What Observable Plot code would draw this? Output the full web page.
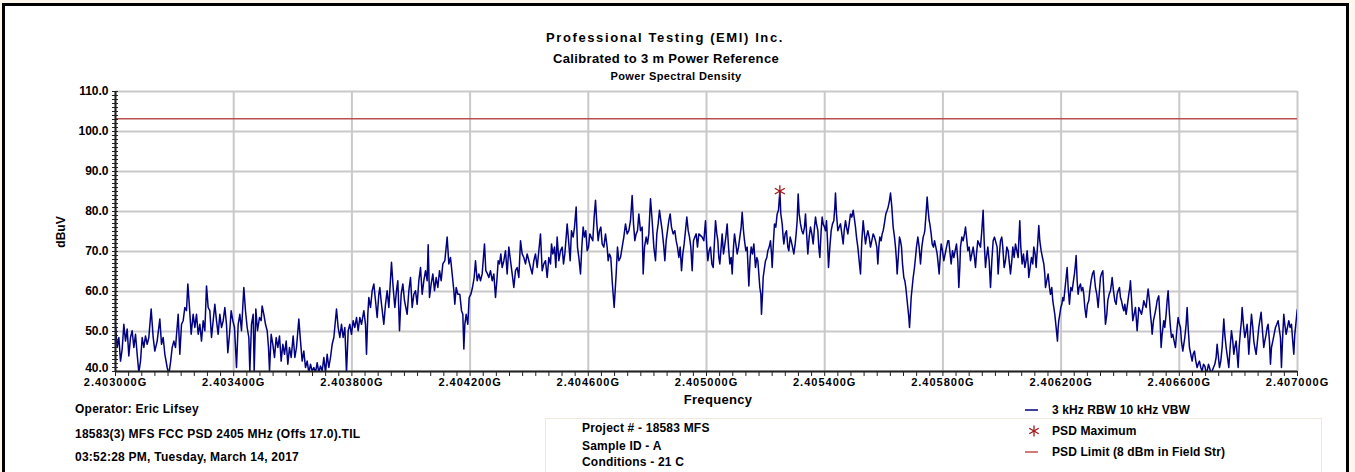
<!DOCTYPE html>
<html>
<head>
<meta charset="utf-8">
<script src="https://cdn.jsdelivr.net/npm/d3@7"></script>
<script src="https://cdn.jsdelivr.net/npm/@observablehq/plot@0.6"></script>
<style>
  html, body { margin: 0; padding: 0; }
  body { width: 1355px; height: 472px; position: relative; overflow: hidden; background: #fdf7ee;
         font-family: "Liberation Sans", Arial, sans-serif; font-weight: bold; color: #000; }
  #frame { position: absolute; left: 2px; top: 3px; width: 1341px; height: 470px; border: 3px solid #000; border-bottom: none; background: #fff; }
  #chart { position: absolute; left: 0; top: 0; }
  .t { position: absolute; white-space: nowrap; line-height: 1; }
  .c { transform: translateX(-50%); }
  #box { position: absolute; left: 545px; top: 418px; width: 775px; height: 60px; border: 1px solid #efe8dc; }
  svg g[aria-label="x-axis tick label"] text { letter-spacing: 1px; }
</style>
</head>
<body>
<div id="frame"></div>
<div id="box"></div>
<div id="chart"></div>
<div id="texts"></div>
<script>
// ---------- data ----------
const titleLines = ["Professional Testing (EMI) Inc.", "Calibrated to 3 m  Power  Reference", "Power Spectral Density"];
const xAxisTitle = "Frequency";
const yAxisTitle = "dBuV";
const footerLeft = ["Operator: Eric Lifsey", "18583(3) MFS FCC PSD 2405 MHz (Offs 17.0).TIL", "03:52:28 PM, Tuesday, March 14, 2017"];
const footerMid = ["Project # - 18583 MFS", "Sample ID - A", "Conditions - 21 C"];
const legendLabels = ["3 kHz RBW 10 kHz VBW", "PSD Maximum", "PSD Limit (8 dBm in Field Str)"];

const freqStartGHz = 2.403;
const freqStopGHz = 2.407;
const xTicksGHz = [2.4030, 2.4034, 2.4038, 2.4042, 2.4046, 2.4050, 2.4054, 2.4058, 2.4062, 2.4066, 2.4070];
const xTickLabels = ["2.403000G", "2.403400G", "2.403800G", "2.404200G", "2.404600G", "2.405000G", "2.405400G", "2.405800G", "2.406200G", "2.406600G", "2.407000G"];
const yTicks = [40, 50, 60, 70, 80, 90, 100, 110];
const yTickLabels = ["40.0", "50.0", "60.0", "70.0", "80.0", "90.0", "100.0", "110.0"];

const limitDbuv = 103.2;                 // PSD limit (8 dBm in field strength)
const psdMaxFreqGHz = [2.4052482];
const psdMaxDbuv = [85.1];

// trace: [frequency offset from 2.403 GHz in kHz, level dBuV]
const sweep = [
[0.0,51.4],[5.7,46.0],[11.3,48.5],[17.0,42.6],[22.6,45.6],[28.2,51.8],[33.9,47.6],[39.5,50.6],[45.1,43.9],[50.8,48.5],
[56.4,50.2],[62.1,46.0],[67.7,49.3],[73.3,44.3],[79.0,39.7],[84.6,42.6],[90.3,48.5],[95.9,46.0],[101.5,48.9],[107.2,46.8],
[112.8,48.5],[120.7,55.6],[127.5,48.5],[133.1,45.1],[141.0,47.6],[150.0,53.1],[155.7,46.8],[161.3,48.5],[167.0,44.3],[174.9,41.0],
[180.5,39.3],[186.1,42.2],[191.8,46.0],[197.4,47.6],[203.1,46.0],[212.1,54.3],[217.7,44.3],[223.4,51.8],[229.0,52.7],[234.6,56.0],
[240.3,55.2],[244.8,61.9],[250.4,56.0],[256.1,49.3],[262.8,54.3],[268.5,51.0],[274.1,54.3],[279.8,49.3],[285.4,51.8],[291.0,47.6],
[296.7,52.7],[302.3,50.2],[308.0,61.4],[313.6,56.0],[319.2,55.2],[324.9,48.5],[330.5,52.7],[336.2,56.8],[341.8,52.7],[347.4,49.3],
[353.1,54.3],[358.7,51.0],[364.4,52.7],[370.0,56.0],[375.6,51.8],[380.1,44.7],[385.8,49.3],[391.4,55.2],[397.1,52.7],[402.7,51.0],
[409.5,41.0],[415.1,51.8],[420.8,54.3],[426.4,50.2],[434.3,61.0],[439.9,55.2],[445.6,51.0],[451.2,48.5],[454.6,40.1],[460.2,51.8],
[465.9,54.3],[469.3,40.1],[474.9,55.6],[480.5,50.2],[487.3,53.5],[492.9,52.7],[496.3,56.4],[502.0,54.3],[507.6,51.8],[513.3,50.2],
[517.8,46.0],[521.2,40.1],[526.8,49.3],[532.4,46.8],[538.1,43.5],[543.7,48.5],[549.4,46.0],[555.0,48.9],[560.6,42.6],[566.3,46.8],
[571.9,44.3],[577.6,47.6],[583.2,41.8],[588.8,46.0],[594.5,43.5],[601.2,48.9],[606.9,43.5],[612.5,46.0],[620.4,53.1],[626.1,47.6],
[631.7,42.6],[637.3,45.1],[643.0,41.0],[648.6,42.6],[654.3,39.7],[659.9,41.8],[665.5,40.1],[671.2,41.0],[676.8,39.7],[682.5,42.2],
[688.1,39.7],[693.7,41.4],[699.4,40.1],[705.0,43.5],[710.7,39.7],[716.3,44.3],[721.9,41.0],[727.6,43.5],[733.2,46.8],[738.9,48.5],
[747.9,55.6],[753.5,51.0],[759.2,48.5],[764.8,51.8],[770.4,48.5],[776.1,51.0],[781.7,39.7],[787.4,50.2],[793.0,51.8],[798.6,49.3],
[804.3,52.7],[809.9,51.0],[815.6,53.5],[821.2,50.2],[826.8,53.5],[832.5,51.8],[840.4,55.2],[846.0,51.8],[849.4,44.3],[853.9,54.3],
[857.3,58.5],[863.0,56.0],[868.6,60.2],[874.2,61.9],[879.9,57.7],[885.5,53.5],[891.1,59.3],[894.5,61.0],[900.2,56.8],[908.0,51.8],
[913.7,56.8],[919.3,60.2],[925.0,56.0],[934.0,67.3],[939.6,61.0],[945.3,56.0],[950.9,60.2],[955.4,62.7],[961.1,50.2],[966.7,59.3],
[972.4,61.9],[978.0,57.7],
[987.0,54.3],[992.7,60.2],[998.3,63.5],[1004.0,56.0],[1009.6,59.3],[1015.2,60.2],[1020.9,56.8],[1026.5,62.7],[1032.2,66.0],[1037.8,59.3],
[1043.4,62.7],[1049.1,65.2],[1054.7,62.7],[1058.1,71.7],[1062.6,58.5],[1068.3,61.9],[1073.9,64.4],[1079.5,60.2],[1085.2,63.5],[1090.8,61.0],
[1096.5,65.2],[1102.1,62.7],[1107.7,66.9],[1114.5,67.7],[1122.4,73.6],[1128.0,66.9],[1133.7,68.5],[1139.3,64.4],[1145.0,60.2],[1148.3,56.8],
[1152.9,61.0],[1158.5,59.3],[1165.3,59.3],[1170.9,55.2],[1175.4,54.3],[1178.8,45.6],[1182.2,51.8],[1186.7,54.3],[1192.3,51.8],[1196.8,58.5],
[1202.5,59.3],[1208.1,61.0],[1213.8,63.5],[1218.3,67.7],[1223.9,62.7],[1229.6,64.4],[1235.2,62.7],[1240.8,64.4],[1248.7,71.9],[1253.2,65.2],
[1258.9,64.4],[1263.4,63.5],[1269.0,65.2],[1274.7,62.7],[1280.3,64.4],[1286.0,58.5],[1290.5,62.7],[1295.0,67.7],[1299.5,66.9],[1304.0,69.4],
[1308.5,66.0],[1314.2,67.7],[1319.8,70.2],[1325.4,64.4],[1331.1,71.1],[1336.7,67.7],[1342.4,64.4],[1348.0,61.0],[1353.6,65.2],[1359.3,66.0],
[1364.9,63.5],[1370.6,72.7],[1376.2,69.4],[1381.8,68.5],[1387.5,66.9],[1393.1,69.4],[1398.8,67.7],[1404.4,66.0],[1410.0,64.4],[1415.7,67.7],
[1421.3,69.4],[1427.0,66.0],[1432.6,70.2],[1438.2,74.4],[1443.9,65.2],[1449.5,66.9],[1455.2,67.7],[1460.8,63.5],[1466.4,68.5],[1472.1,66.9],
[1475.5,71.9],[1480.0,69.4],[1485.6,71.1],[1490.1,66.0],[1494.6,73.6],[1500.3,67.7],[1505.9,70.2],[1511.6,71.1],[1516.1,66.9],[1520.6,69.4],
[1525.1,73.6],[1528.5,76.9],[1534.1,71.9],[1538.6,67.7],[1543.1,75.2],[1548.8,73.6],[1553.3,76.1],[1558.9,81.1],[1563.4,71.1],[1568.0,68.5],
[1573.6,64.4],[1578.1,71.1],[1582.6,76.1],[1587.1,73.6],[1591.6,75.2],[1596.2,70.2],[1600.7,71.1],[1605.2,74.4],[1609.7,73.6],[1615.3,72.7],
[1619.8,78.6],[1624.4,82.8],[1628.9,76.9],[1633.4,72.7],[1637.9,75.2],[1642.4,76.1],[1646.9,71.9],[1652.6,71.1],[1658.2,74.4],[1663.8,71.1],
[1667.2,67.7],[1671.7,69.4],[1676.2,68.5],[1680.8,62.7],[1684.1,59.3],[1687.5,56.0],[1690.9,60.2],[1694.3,64.4],[1698.8,71.1],[1703.3,67.7],
[1709.0,68.5],[1714.6,71.1],[1720.2,73.6],[1725.9,76.9],[1731.5,74.4],[1737.2,75.2],[1742.8,77.7],[1748.4,84.0],[1753.0,76.9],[1757.5,72.7],
[1762.0,74.4],[1766.5,75.2],[1771.0,79.4],[1776.6,75.2],[1782.3,76.1],[1785.7,64.4],[1790.2,71.1],[1795.8,73.6],[1800.3,71.9],[1804.8,74.4],
[1810.5,83.2],[1816.1,77.7],[1821.8,71.1],[1827.4,67.7],[1831.9,74.4],[1836.4,76.9],[1840.9,80.3],[1845.4,77.7],[1850.0,75.2],[1855.6,71.1],
[1859.0,67.7],[1863.5,72.7],[1868.0,75.2],[1872.5,77.7],[1877.0,79.4],[1881.5,76.1],[1887.2,74.4],[1892.8,75.2],[1897.3,72.7],[1901.8,71.1],
[1906.4,68.5],[1910.9,71.1],[1915.4,65.2],[1919.9,69.4],[1924.4,71.9],[1928.9,75.2],[1933.4,78.6],[1938.1,75.2],[1942.5,73.6],[1947.0,71.1],
[1951.5,65.2],[1956.0,72.7],[1960.5,73.6],[1965.0,74.4],[1969.5,71.1],[1974.0,74.4],
[1985.3,73.6],[1991.0,72.7],[1996.6,77.7],[2001.1,71.1],[2004.5,67.7],[2009.0,70.2],[2013.5,71.1],[2018.1,66.9],[2022.6,66.0],[2027.1,72.7],
[2030.5,77.7],[2035.0,74.4],[2038.4,72.7],[2041.7,68.5],[2045.1,66.9],[2049.6,71.1],[2053.0,74.4],[2057.5,69.4],[2060.9,71.1],[2065.4,73.6],
[2069.9,76.9],[2074.5,71.1],[2079.0,66.9],[2083.5,68.5],[2086.9,64.4],[2091.4,71.1],[2094.8,74.4],[2099.3,71.9],[2103.8,69.4],[2108.3,71.1],
[2112.8,73.6],[2117.3,76.1],[2120.7,79.8],[2125.2,75.2],[2128.6,72.7],[2133.1,70.2],[2137.6,71.1],[2143.3,61.4],[2147.8,68.5],[2151.2,71.1],
[2155.7,69.4],[2160.2,71.9],[2165.8,66.0],[2170.3,68.5],[2173.7,67.7],[2177.1,64.4],[2180.5,61.0],[2183.9,59.3],[2186.1,54.3],[2189.5,59.3],
[2191.8,63.5],[2196.3,66.0],[2199.7,67.7],[2204.2,68.5],[2207.6,70.2],[2212.1,71.1],[2216.6,72.7],[2220.0,69.4],[2222.2,66.0],[2226.7,72.7],
[2230.1,76.9],[2234.6,76.1],[2239.1,79.4],[2243.6,80.3],[2248.2,85.1],[2251.5,79.4],[2256.1,76.9],[2259.4,73.6],[2261.7,71.9],[2266.2,74.4],
[2270.7,75.2],[2275.2,71.1],[2278.6,70.2],[2283.1,73.6],[2286.5,72.7],[2291.0,71.1],[2295.5,69.4],[2300.1,71.9],[2303.4,74.4],[2306.8,77.7],
[2310.2,84.4],[2313.6,79.4],[2318.1,76.9],[2322.6,75.2],[2327.1,74.4],[2331.6,76.1],[2335.0,79.4],[2339.5,73.6],[2342.9,69.4],[2347.4,73.6],
[2351.9,76.1],[2356.5,74.4],[2361.0,71.9],[2365.5,76.1],[2368.9,78.6],[2372.2,76.9],[2376.8,75.2],[2380.1,71.1],[2383.5,68.5],[2388.0,75.2],
[2391.4,78.6],[2394.8,76.9],[2399.3,76.1],[2402.7,75.2],[2406.1,77.7],[2409.5,72.7],[2412.9,66.0],[2417.4,71.1],[2421.9,75.2],[2426.4,76.9],
[2430.9,77.7],[2434.3,81.1],[2436.5,84.6],[2439.9,79.4],[2444.4,75.2],[2448.9,76.1],[2453.5,76.9],[2458.0,74.4],[2462.5,71.9],[2465.9,75.2],
[2470.4,77.7],[2473.8,76.1],[2478.3,74.4],[2482.8,76.9],[2487.3,79.4],[2491.8,78.6],[2496.3,80.3],[2499.7,78.6],[2504.2,76.1],[2507.6,73.6],
[2512.1,71.1],[2516.6,67.7],[2521.1,64.4],[2525.6,72.7],[2530.2,77.7],[2533.5,75.2],[2538.1,71.9],[2541.4,73.6],[2545.9,75.2],[2550.5,73.6],
[2555.0,71.1],[2559.5,72.7],[2564.0,74.4],[2568.5,73.6],[2571.9,72.7],[2576.4,71.1],[2579.8,66.9],[2583.2,71.1],[2586.6,73.6],[2591.1,72.7],
[2594.5,74.4],[2597.8,75.2],[2600.1,76.1],[2603.5,77.7],[2606.9,79.4],[2611.4,80.3],[2614.8,81.1],[2619.3,82.8],[2622.7,84.6],[2627.2,81.1],
[2631.7,76.1],[2636.2,73.6],[2639.6,71.1],[2643.0,67.7],[2645.2,64.4],[2649.7,69.4],[2653.1,73.6],[2656.5,72.7],[2659.9,71.1],[2663.3,66.9],
[2667.8,63.5],[2671.2,62.7],[2674.5,61.0],[2677.9,58.5],[2681.3,56.0],[2684.7,53.5],[2687.0,51.0],[2690.3,55.2],[2692.6,58.5],[2696.0,61.0],
[2699.4,63.5],[2703.9,66.0],[2707.3,68.5],[2710.6,71.1],[2715.2,73.6],[2719.7,71.1],[2724.2,66.9],[2728.7,71.1],[2733.2,73.6],[2736.6,74.4],
[2738.8,75.2],[2742.2,78.6],[2746.7,83.6],[2750.1,80.3],[2753.5,77.7],[2755.8,76.9],[2760.3,74.4],[2763.7,71.9],[2768.2,71.1],[2771.6,72.7],
[2776.1,71.1],[2780.6,69.4],[2784.0,66.9],[2787.3,64.4],[2790.7,68.5],[2794.1,71.9],[2798.6,70.2],[2803.1,67.7],[2807.7,69.4],[2812.2,71.1],
[2816.7,72.7],[2820.1,72.7],[2823.4,70.2],[2827.9,66.9],[2832.5,70.2],[2837.0,68.5],[2841.5,70.2],[2846.0,71.9],[2850.5,67.7],[2853.9,61.0],
[2857.3,66.0],[2859.5,71.1],[2864.1,73.6],[2868.6,72.7],[2873.1,74.4],[2876.5,76.1],[2879.9,73.6],[2884.4,70.2],[2888.9,71.1],[2893.4,67.7],
[2897.9,69.4],[2902.4,71.1],[2906.9,68.5],[2910.3,66.0],[2913.7,69.4],[2918.2,72.7],[2922.7,71.9],[2927.2,71.1],[2931.7,75.2],[2936.2,80.3],
[2939.6,72.7],[2944.1,66.0],[2947.5,68.5],[2952.0,71.1],[2956.5,67.7],[2961.1,61.0],[2965.6,67.7],[2970.1,72.7],[2974.6,73.6],
[2983.5,71.1],[2986.9,64.4],[2991.4,69.4],[2994.8,72.7],[2999.3,73.6],[3002.7,71.1],[3007.2,66.0],[3011.7,67.7],[3016.3,71.1],[3020.8,70.2],
[3025.3,66.9],[3028.7,64.4],[3033.2,67.7],[3036.6,71.1],[3041.1,68.5],[3045.6,71.9],[3050.1,70.2],[3054.6,68.5],[3056.9,72.7],[3060.2,77.7],
[3063.6,71.1],[3068.1,66.9],[3072.7,69.4],[3077.2,66.0],[3081.7,67.7],[3085.1,70.2],[3088.4,66.9],[3090.7,63.5],[3095.2,66.0],[3099.7,68.5],
[3104.2,66.9],[3107.6,71.1],[3112.1,69.4],[3115.5,66.0],[3120.0,71.1],[3124.5,76.5],[3127.9,72.7],[3132.4,70.2],[3136.9,68.5],[3141.5,66.9],
[3144.8,64.4],[3147.1,61.0],[3151.6,62.7],[3156.1,64.4],[3160.6,61.0],[3164.0,59.3],[3168.5,61.0],[3171.9,57.7],[3175.3,56.0],[3178.7,54.3],
[3180.9,52.7],[3183.2,51.0],[3185.4,49.3],[3187.7,47.6],[3190.0,51.0],[3192.2,52.7],[3195.6,54.3],[3199.0,56.0],[3202.4,56.8],[3205.8,58.5],
[3209.1,57.7],[3212.5,60.2],[3215.9,62.7],[3220.4,66.0],[3223.8,61.0],[3228.3,56.8],[3232.8,61.0],[3237.3,60.2],[3241.9,62.7],[3245.2,64.4],
[3248.6,66.9],[3250.9,69.0],[3254.3,62.7],[3257.6,59.3],[3261.0,61.0],[3265.5,61.9],[3268.9,60.2],[3273.4,61.0],[3276.8,59.3],[3280.2,56.0],
[3284.7,53.5],[3289.2,56.8],[3293.7,57.7],[3297.1,60.2],[3301.6,62.7],[3306.1,64.4],[3310.7,65.2],[3314.0,62.7],[3316.3,61.0],[3320.8,59.3],
[3325.3,56.0],[3329.8,60.2],[3333.2,63.5],[3336.6,64.4],[3341.1,65.2],[3345.6,58.5],[3350.1,51.8],[3354.7,54.3],[3358.0,57.7],[3362.5,59.3],
[3367.1,60.2],[3370.4,61.9],[3372.7,63.5],[3377.2,60.2],[3381.7,57.7],[3386.2,56.8],[3389.6,59.3],[3393.0,60.2],[3397.5,61.0],[3400.9,58.5],
[3404.3,57.7],[3408.8,56.0],[3412.2,55.2],[3415.6,56.8],[3420.1,54.3],[3424.6,56.8],[3429.1,59.3],[3432.5,61.0],[3434.7,62.7],[3438.1,58.5],
[3442.6,52.7],[3447.1,54.3],[3451.7,56.0],[3455.0,52.7],[3457.3,50.2],[3460.7,53.5],[3462.9,56.0],[3467.5,55.2],[3472.0,54.3],[3476.5,56.0],
[3479.9,57.7],[3483.2,56.8],[3487.8,56.0],[3491.1,58.5],[3494.5,60.6],[3499.0,57.7],[3502.4,54.3],[3505.8,51.8],[3508.1,49.3],[3512.6,52.7],
[3517.1,54.3],[3521.6,56.0],[3525.0,57.7],[3528.4,58.5],[3530.6,58.9],[3535.1,52.7],[3538.5,46.0],[3541.9,49.3],[3547.5,52.7],[3550.9,51.0],
[3555.4,54.3],[3558.8,57.7],[3562.2,60.2],[3566.7,54.3],[3570.1,51.0],[3573.5,48.5],[3578.0,49.3],[3582.5,47.6],[3587.0,46.0],[3591.5,50.2],
[3596.0,53.5],[3600.6,51.8],[3603.9,51.0],[3607.3,47.6],[3611.8,45.1],[3615.2,46.8],[3618.6,48.5],[3623.1,51.8],[3626.5,56.0],[3629.9,51.0],
[3634.4,46.0],[3638.9,44.3],[3643.4,42.6],[3646.8,44.3],[3651.3,45.1],[3655.8,42.6],[3660.3,41.0],[3663.7,41.8],[3668.2,42.6],[3672.7,41.0],
[3677.3,40.1],[3681.8,41.8],[3686.3,41.4],[3690.8,39.7],[3694.2,40.1],[3698.7,41.8],[3702.1,41.0],[3706.6,39.7],[3711.1,40.1],[3715.6,41.0],
[3720.1,41.8],[3724.6,43.5],[3728.0,46.8],[3731.4,44.3],[3735.9,41.0],[3740.4,42.6],[3744.9,46.0],[3750.6,53.1],[3754.0,49.3],[3758.5,46.0],
[3763.0,43.5],[3767.5,41.0],[3772.0,46.0],[3776.5,50.2],[3781.0,47.6],[3784.4,44.3],[3787.8,46.0],[3792.3,47.6],[3795.7,44.3],[3799.1,41.0],
[3802.5,46.0],[3807.0,50.2],[3810.4,52.7],[3812.6,56.0],[3817.1,51.8],[3821.6,48.5],[3826.2,50.2],[3829.5,51.8],[3832.9,47.6],[3835.2,44.3],
[3839.7,49.3],[3844.2,54.3],[3848.7,51.0],[3852.1,47.6],[3855.5,46.0],[3860.0,44.3],[3864.5,47.6],[3869.0,51.0],[3872.4,52.7],[3876.9,54.8],
[3881.4,50.2],[3885.9,46.0],[3889.3,47.6],[3893.8,49.3],[3897.2,51.0],[3900.6,51.8],[3905.1,47.6],[3908.5,41.8],[3911.9,46.0],[3916.4,47.6],
[3920.9,49.3],[3925.4,51.0],[3929.9,51.8],[3934.4,52.7],[3939.0,50.2],[3942.3,48.5],[3945.7,41.0],[3949.1,47.6],[3953.6,54.3],[3957.0,51.8],
[3961.5,49.3],[3966.0,51.0],[3970.5,52.7],[3975.1,51.0],[3979.6,51.8],[3982.9,48.5],[3987.5,44.3],[3990.8,49.3],[3994.2,51.8],[3998.7,55.2],
[4000.0,55.6]
];

// ---------- chart ----------
const trace = sweep.map(([k, v]) => ({f: freqStartGHz + k / 1e6, v}));
const maxPts = psdMaxFreqGHz.map((f, i) => ({f, v: psdMaxDbuv[i]}));
const minorX = d3.range(0, 91).map(i => freqStartGHz + i * (freqStopGHz - freqStartGHz) / 90);
const minorY = d3.range(40, 111, 1);
const labelFor = d => xTickLabels[Math.round((d - freqStartGHz) / 0.0004)];

const chart = Plot.plot({
  width: 1355, height: 472,
  marginLeft: 115, marginRight: 58, marginTop: 91, marginBottom: 101,
  x: {domain: [freqStartGHz, freqStopGHz]},
  y: {domain: [40, 110]},
  style: {fontFamily: '"Liberation Sans", Arial, sans-serif', fontSize: "12px", fontWeight: "bold", background: "transparent", color: "#000", overflow: "visible"},
  marks: [
    Plot.ruleX(xTicksGHz, {x: d => d, stroke: "#c9c9c9", strokeWidth: 2}),
    Plot.ruleY(yTicks, {y: d => d, stroke: "#c9c9c9", strokeWidth: 2}),
    Plot.ruleY([limitDbuv], {y: d => d, stroke: "#b9504e", strokeWidth: 1.6}),
    Plot.line(trace, {x: "f", y: "v", stroke: "#000080", strokeWidth: 1.5, clip: true}),
    Plot.dot(maxPts, {x: "f", y: "v", symbol: "asterisk", r: 5.5, stroke: "#a01818", strokeWidth: 1.3}),
    Plot.ruleX([freqStartGHz], {x: d => d, stroke: "#222", strokeWidth: 2}),
    Plot.ruleY([40], {y: d => d, stroke: "#222", strokeWidth: 2}),
    Plot.axisY({ticks: minorY, tickSize: 6, dx: 3, tickFormat: () => "", label: null, stroke: "#222"}),
    Plot.axisY({ticks: yTicks.slice(1), tickSize: 0, tickPadding: 7, tickFormat: (d) => yTickLabels[yTicks.indexOf(d)], label: null, fontSize: 12, fontWeight: "bold"}),
    Plot.axisY({ticks: yTicks.slice(0, 1), tickSize: 0, tickPadding: 7, dy: -3, tickFormat: (d) => yTickLabels[yTicks.indexOf(d)], label: null, fontSize: 12, fontWeight: "bold"}),
    Plot.axisX({ticks: minorX, tickSize: 5, tickFormat: () => "", label: null, stroke: "#222"}),
    Plot.axisX({ticks: xTicksGHz, tickSize: 0, tickPadding: 7, tickFormat: labelFor, label: null, fontSize: 11, fontWeight: "bold"})
  ]
});
document.getElementById("chart").appendChild(chart);

// ---------- texts ----------
const T = document.getElementById("texts");
function addText(txt, x, cy, fs, opts = {}) {
  const d = document.createElement("div");
  d.className = "t" + (opts.center ? " c" : "");
  d.textContent = txt;
  d.style.left = x + "px";
  d.style.top = (cy - fs / 2) + "px";
  d.style.fontSize = fs + "px";
  if (opts.ls != null) d.style.letterSpacing = opts.ls + "px";
  if (opts.rotate) { d.style.transform = "translate(-50%, 0) rotate(-90deg)"; }
  T.appendChild(d);
  return d;
}
addText(titleLines[0], 665, 37, 13, {center: true, ls: 1.6});
addText(titleLines[1], 666, 58, 13, {center: true, ls: 0.35});
addText(titleLines[2], 676, 76, 11, {center: true, ls: 0.4});
addText(xAxisTitle, 718, 399, 13, {center: true, ls: 0.3});
addText(yAxisTitle, 61, 232, 12, {rotate: true});
footerLeft.forEach((s, i) => addText(s, 75, [409, 434, 457][i], 12, {ls: 0.25}));
footerMid.forEach((s, i) => addText(s, 582, [428, 446, 462][i], 12, {ls: 0.2}));
legendLabels.forEach((s, i) => addText(s, 1052, [410, 431, 452][i], 12, {ls: 0.1}));

// legend symbols
const legendSvg = d3.select(document.body).append("svg")
  .attr("width", 40).attr("height", 60)
  .style("position", "absolute").style("left", "1020px").style("top", "400px");
legendSvg.append("line").attr("x1", 5).attr("x2", 18).attr("y1", 10).attr("y2", 10).attr("stroke", "#000080").attr("stroke-width", 1.5);
const ast = legendSvg.append("g").attr("transform", "translate(14,31)");
[0, 60, 120].forEach(a => {
  const r = 5.5, t = a * Math.PI / 180;
  ast.append("line").attr("x1", -r * Math.sin(t)).attr("y1", -r * Math.cos(t)).attr("x2", r * Math.sin(t)).attr("y2", r * Math.cos(t))
    .attr("stroke", "#a01818").attr("stroke-width", 1.3);
});
legendSvg.append("line").attr("x1", 5).attr("x2", 18).attr("y1", 52).attr("y2", 52).attr("stroke", "#c0504d").attr("stroke-width", 1.5);
</script>
</body>
</html>
